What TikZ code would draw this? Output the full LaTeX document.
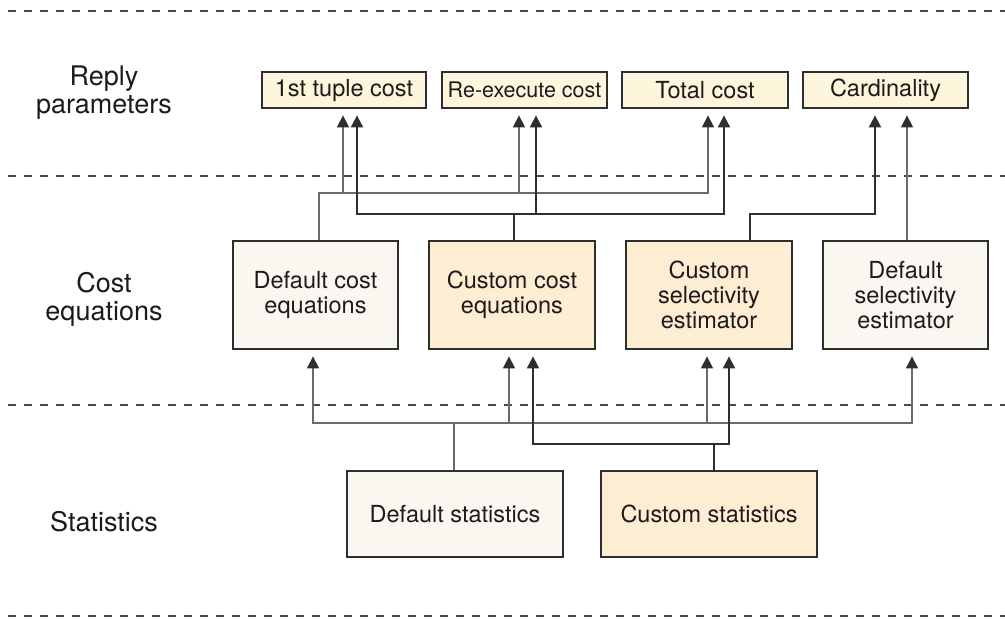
\documentclass[tikz,border=0pt]{standalone}
\usepackage{fontspec}
\setmainfont{TeX Gyre Heros}
\usetikzlibrary{arrows.meta}
\definecolor{ink}{HTML}{1E1A1B}
\definecolor{edge}{HTML}{2E2E2E}
\definecolor{wire}{HTML}{6A6A6A}
\definecolor{rule}{HTML}{4A4A4A}
\definecolor{paramfill}{HTML}{FDF5DC}
\definecolor{customfill}{HTML}{FDEDD2}
\definecolor{defaultfill}{HTML}{FAF7F0}
\tikzset{ptr/.tip={Triangle[length=12pt,width=12pt,color=edge]}}
\begin{document}
\begin{tikzpicture}[x=1pt,y=-1pt,
  box/.style={draw=edge,line width=1.8pt,text=ink,align=center,inner sep=0pt,
    font=\fontsize{23.5}{25}\selectfont},
  parambox/.style={box,fill=paramfill,minimum height=36pt},
  custombox/.style={box,fill=customfill},
  defaultbox/.style={box,fill=defaultfill},
  layer/.style={text=ink,align=center,font=\fontsize{27}{28}\selectfont},
  divider/.style={draw=rule,line width=1.5pt,dash pattern=on 8pt off 8pt},
  lite/.style={draw=wire,line width=1.3pt},
  bold/.style={draw=edge,line width=2pt},
  arr/.style={-ptr,shorten >=6.5pt},
  arrs/.style={ptr-ptr,shorten <=6.5pt,shorten >=6.5pt}]
\useasboundingbox (0,0) rectangle (1005,619);

% layer separators
\draw[divider] (8,11) -- (1005,11);
\draw[divider] (8,176) -- (1005,176);
\draw[divider] (8,405) -- (1005,405);
\draw[divider] (8,616) -- (1005,616);

% layer names
\node[layer] (lrep) at (104,93) {Reply\\parameters};
\node[layer] (lcost) at (104,299) {Cost\\equations};
\node[layer] (lstat) at (104,522) {Statistics};

% reply parameters
\node[parambox,minimum width=164pt] (tup) at (344,90) {1st tuple cost};
\node[parambox,minimum width=165pt,font=\fontsize{21.5}{23}\selectfont] (re) at (524.5,90) {Re-execute cost};
\node[parambox,minimum width=166pt] (tot) at (705,90) {Total cost};
\node[parambox,minimum width=165pt] (card) at (885.5,90) {Cardinality};

% cost equations and estimators
\node[defaultbox,minimum width=165pt,minimum height=108pt] (dce) at (315.5,295) {Default cost\\equations};
\node[custombox,minimum width=166pt,minimum height=108pt] (cce) at (512,295) {Custom cost\\equations};
\node[custombox,minimum width=166pt,minimum height=108pt] (cse) at (709,295) {Custom\\selectivity\\estimator};
\node[defaultbox,minimum width=165pt,minimum height=108pt] (dse) at (905.5,295) {Default\\selectivity\\estimator};

% statistics
\node[defaultbox,minimum width=216pt,minimum height=86pt] (dst) at (455,514) {Default statistics};
\node[custombox,minimum width=216pt,minimum height=86pt] (cst) at (709,514) {Custom statistics};

% bus levels
\coordinate (busA) at (0,193);
\coordinate (busB) at (0,214);
\coordinate (busC) at (0,423);
\coordinate (busD) at (0,444);

% attachment points
\path ([xshift=-1pt]tup.south) coordinate (tupA) ([xshift=13pt]tup.south) coordinate (tupB)
      ([xshift=-5.5pt]re.south) coordinate (reA) ([xshift=11.5pt]re.south) coordinate (reB)
      ([xshift=3pt]tot.south) coordinate (totA) ([xshift=19pt]tot.south) coordinate (totB)
      ([xshift=-10.5pt]card.south) coordinate (cardB) ([xshift=21.5pt]card.south) coordinate (cardA)
      ([xshift=3.5pt]dce.north) coordinate (dceT) ([xshift=2pt]cce.north) coordinate (cceT)
      ([xshift=41pt]cse.north) coordinate (cseT) ([xshift=1.5pt]dse.north) coordinate (dseT)
      ([xshift=-2.5pt]dce.south) coordinate (dceB)
      ([xshift=-3pt]cce.south) coordinate (cceA) ([xshift=21pt]cce.south) coordinate (cceB)
      ([xshift=-2pt]cse.south) coordinate (cseA) ([xshift=20pt]cse.south) coordinate (cseB)
      ([xshift=6.5pt]dse.south) coordinate (dseB)
      ([xshift=-1pt]dst.north) coordinate (dstT) ([xshift=5pt]cst.north) coordinate (cstT);

% default cost equations -> reply parameters
\draw[lite,arr] (dceT) -- (dceT |- busA) -- (totA |- busA) -- (totA);
\draw[lite,arr] (tupA |- busA) -- (tupA);
\draw[lite,arr] (reA |- busA) -- (reA);

% custom cost equations -> reply parameters
\draw[bold] (cceT) -- (cceT |- busB);
\draw[bold,arrs] (tupB) -- (tupB |- busB) -- (totB |- busB) -- (totB);
\draw[bold,arr] (reB |- busB) -- (reB);

% selectivity estimators -> cardinality
\draw[bold,arr] (cseT) -- (cseT |- busB) -- (cardB |- busB) -- (cardB);
\draw[lite,arr] (dseT) -- (cardA);

% default statistics -> all estimators
\draw[lite] (dstT) -- (dstT |- busC);
\draw[lite,arrs] (dceB) -- (dceB |- busC) -- (dseB |- busC) -- (dseB);
\draw[lite,arr] (cceA |- busC) -- (cceA);
\draw[lite,arr] (cseA |- busC) -- (cseA);

% custom statistics -> custom components
\draw[bold] (cstT) -- (cstT |- busD);
\draw[bold,arrs] (cceB) -- (cceB |- busD) -- (cseB |- busD) -- (cseB);
\end{tikzpicture}
\end{document}
